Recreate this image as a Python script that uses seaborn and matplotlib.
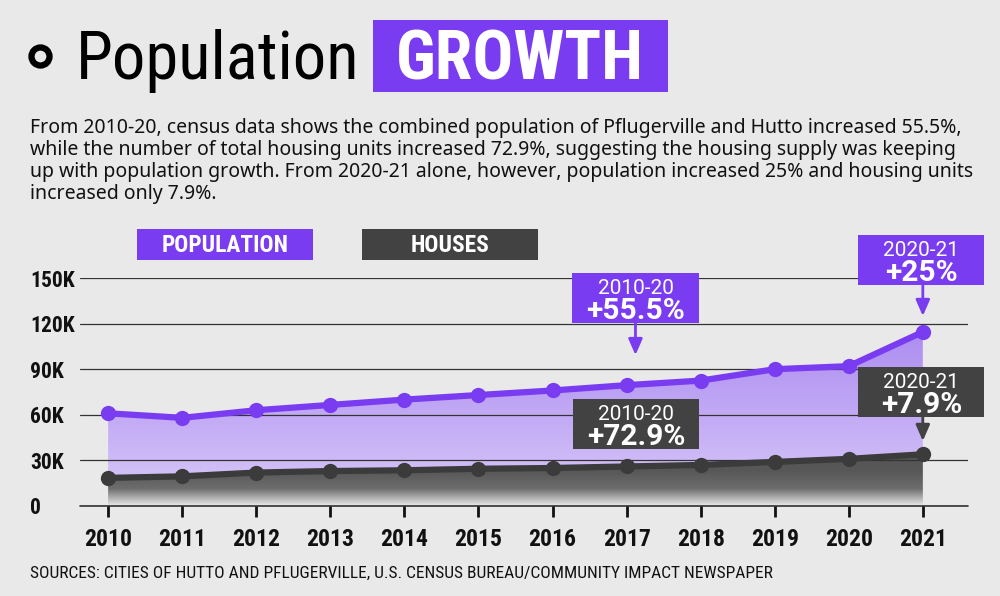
import numpy as np
import matplotlib
matplotlib.use('Agg')
import matplotlib.pyplot as plt
import matplotlib.font_manager as fm
import seaborn as sns
from matplotlib.patches import Rectangle, PathPatch
from matplotlib.lines import Line2D
from matplotlib.colors import LinearSegmentedColormap

# =============================
# Data
# =============================
years = np.arange(2010, 2022)
population = [61000, 58000, 63000, 66500, 70000, 73000, 76000, 79500, 82500, 90000, 92000, 114500]
houses = [18500, 19500, 22000, 23000, 23500, 24500, 25000, 26000, 27000, 29000, 31000, 34000]

y_ticks = [0, 30000, 60000, 90000, 120000, 150000]
y_labels = ['0', '30K', '60K', '90K', '120K', '150K']

callout_period = ['2010-20', '2020-21', '2010-20', '2020-21']
callout_change = ['+55.5%', '+25%', '+72.9%', '+7.9%']

body_lines = [
    'From 2010-20, census data shows the combined population of Pflugerville and Hutto increased 55.5%,',
    'while the number of total housing units increased 72.9%, suggesting the housing supply was keeping',
    'up with population growth. From 2020-21 alone, however, population increased 25% and housing units',
    'increased only 7.9%.',
]
source_text = 'SOURCES: CITIES OF HUTTO AND PFLUGERVILLE, U.S. CENSUS BUREAU/COMMUNITY IMPACT NEWSPAPER'

# =============================
# Style
# =============================
PURPLE = '#7a3cf0'
DARK = '#424242'
LINE_DARK = '#3b3b3b'
BG = '#e9e9ea'

installed = {f.name for f in fm.fontManager.ttflist}
narrow_choices = ['Roboto Condensed', 'Liberation Sans Narrow', 'Open Sans Condensed', 'Roboto']
NARROW_NAME = next((n for n in narrow_choices if n in installed), 'DejaVu Sans')
NARROW = [NARROW_NAME, 'DejaVu Sans']
BODY = ['Noto Sans', 'DejaVu Sans']
CALLOUT = ['Roboto', 'DejaVu Sans']

sns.set_theme(style='white')
plt.rcParams['font.family'] = NARROW

W, H = 1000, 596


def fx(px):
    return px / W


def fy(py):
    return 1 - py / H


def gradient_fill(ax, x, y, colors, zorder):
    band = ax.fill_between(x, 0, y, color='none', lw=0)
    path = band.get_paths()[0]
    patch = PathPatch(path, transform=ax.transData, facecolor='none', edgecolor='none')
    ax.add_patch(patch)
    cmap = LinearSegmentedColormap.from_list('grad', colors)
    grad = np.linspace(0, 1, 256).reshape(-1, 1)
    im = ax.imshow(grad, cmap=cmap, aspect='auto', origin='lower',
                   extent=[min(x), max(x), 0, max(y)], zorder=zorder)
    im.set_clip_path(patch)


fig = plt.figure(figsize=(10, 5.96), dpi=100)
fig.patch.set_facecolor(BG)

# =============================
# Header
# =============================
fig.add_artist(Line2D([fx(40)], [fy(56)], marker='o', ms=13, mfc='none', mec='black',
                      mew=4.5, transform=fig.transFigure))
fig.text(fx(76), fy(79), 'Population', fontsize=48, color='black', va='baseline', ha='left')
fig.add_artist(Rectangle((fx(373), fy(92)), fx(295), 72 / H, transform=fig.transFigure,
                         facecolor=PURPLE, edgecolor='none'))
fig.text(fx(520), fy(79), 'GROWTH', fontsize=49, color='white', fontweight='bold',
         va='baseline', ha='center')

for i, line in enumerate(body_lines):
    fig.text(fx(30), fy(128 + 22 * i), line, fontsize=14, color='#111111',
             va='center', ha='left', family=BODY)

# legend boxes
for left, label, col in [(137, 'POPULATION', PURPLE), (362, 'HOUSES', DARK)]:
    fig.add_artist(Rectangle((fx(left), fy(260)), fx(176), 31 / H, transform=fig.transFigure,
                             facecolor=col, edgecolor='none'))
    fig.text(fx(left + 88), fy(245), label, fontsize=16.8, color='white', fontweight='bold',
             va='center', ha='center')

# =============================
# Chart
# =============================
ax = fig.add_axes([fx(80), fy(506), fx(888), (506 - 278) / H])
ax.set_facecolor('none')

gradient_fill(ax, years, population, ['#d9cbf7', '#c3abf5', '#ad8df0'], zorder=0.6)
gradient_fill(ax, years, houses, ['#ececec', '#6d6d6d', '#585858', '#555555'], zorder=0.8)

sns.lineplot(x=years, y=population, ax=ax, color=PURPLE, lw=4.5, marker='o', ms=11,
             markeredgewidth=0, zorder=3)
sns.lineplot(x=years, y=houses, ax=ax, color=LINE_DARK, lw=4.5, marker='o', ms=11,
             markeredgewidth=0, zorder=3)

ax.set_xlim(2009.62, 2021.61)
ax.set_ylim(0, 150000)
ax.set_axisbelow('line')
ax.set_yticks(y_ticks)
ax.set_yticklabels(y_labels)
ax.yaxis.grid(True, color='#333333', lw=0.9)
ax.xaxis.grid(False)
ax.axhline(0, color='#333333', lw=1.2, clip_on=False, zorder=1.5)
for s in ax.spines.values():
    s.set_visible(False)

ax.tick_params(axis='y', length=0, pad=36, labelsize=15.5, labelcolor='#111111')
for lab in ax.get_yticklabels():
    lab.set_horizontalalignment('left')
    lab.set_fontweight('bold')

ax.set_xticks(years)
ax.set_xticklabels([str(y) for y in years])
ax.tick_params(axis='x', length=8, width=2, color='#111111', direction='out', pad=8,
               labelsize=17, labelcolor='#111111', bottom=True)
for lab in ax.get_xticklabels():
    lab.set_fontweight('bold')
ax.set_xlabel('')
ax.set_ylabel('')

# =============================
# Callouts (box left/right in years, top/bottom in people, arrow tip)
# =============================
callout_boxes = [
    (2016.26, 2017.98, 153300, 120400, (2017.12, 99300), PURPLE),
    (2020.13, 2021.83, 178300, 145400, (2021.0, 125000), PURPLE),
    (2016.27, 2017.98, 70400, 37500, None, DARK),
    (2020.13, 2021.83, 91400, 58600, (2021.0, 42800), DARK),
]
px_per_unit = 1.52 / 1000  # px per person on the y axis
for (l, r, top, bot, tip, col), per, chg in zip(callout_boxes, callout_period, callout_change):
    ax.add_patch(Rectangle((l, bot), r - l, top - bot, facecolor=col, edgecolor='none',
                           clip_on=False, zorder=5))
    cx = (l + r) / 2
    ax.text(cx, top - 21 / px_per_unit, per, color='white', fontsize=15, ha='center',
            va='baseline', zorder=6, clip_on=False, family=CALLOUT)
    ax.text(cx, top - 46 / px_per_unit, chg, color='white', fontsize=21.5, fontweight='bold',
            ha='center', va='baseline', zorder=6, clip_on=False, family=CALLOUT)
    if tip is not None:
        ax.annotate('', xy=tip, xytext=(tip[0], bot), annotation_clip=False, zorder=6,
                    arrowprops=dict(arrowstyle='-|>,head_width=0.35,head_length=0.8',
                                    color=col, lw=2, shrinkA=0, shrinkB=0))

fig.text(fx(30), fy(573), source_text, fontsize=12.5, color='#111111', va='center', ha='left')

fig.savefig('out.png', dpi=100, facecolor=BG)
